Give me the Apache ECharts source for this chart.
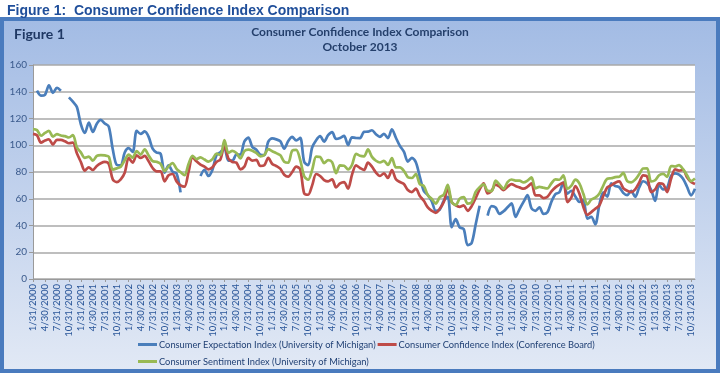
<!DOCTYPE html>
<html><head><meta charset="utf-8">
<script src="https://cdn.jsdelivr.net/npm/echarts@6/dist/echarts.min.js"></script>
<style>html,body{margin:0;padding:0;background:#fff}#c{width:720px;height:373px}</style>
</head><body><div id="c"></div>
<script>
// Monthly data, Jan 2000 .. Nov 2013
const startYear = 2000, startMonth = 1;

const seriesNames = [
  'Consumer Expectation Index (University of Michigan)',
  'Consumer Confidence Index (Conference Board)',
  'Consumer Sentiment Index (University of Michigan)'
];

// blue line
const expectationIdx = [
  null,140.8,137.1,137.7,144.7,139.2,143.0,140.8,null,135.8,132.6,128.6,
  115.7,109.2,116.9,109.9,116.1,118.9,116.3,114.0,97.0,85.3,84.9,94.6,
  97.8,95.0,110.7,108.5,110.3,106.3,97.4,94.5,93.7,79.6,84.9,80.3,
  78.8,64.8,null,null,null,null,77.0,81.7,77.0,81.7,92.5,94.8,
  97.7,88.5,88.5,93.0,93.1,102.8,105.7,98.7,96.7,92.9,92.6,102.7,
  105.1,104.4,103.0,97.5,103.1,106.2,103.6,105.5,87.5,85.2,98.3,103.8,
  106.8,102.7,107.5,109.8,104.7,105.4,107.0,100.2,105.9,105.4,105.3,110.0,
  110.2,111.2,108.2,106.3,108.5,105.3,111.9,105.6,99.5,95.2,87.8,90.6,
  87.3,76.4,65.9,62.8,58.1,51.0,51.9,58.5,61.4,38.8,44.7,38.6,
  37.4,25.3,26.9,40.8,54.8,null,47.4,54.5,53.4,48.7,50.6,53.6,
  56.5,46.4,52.3,57.7,62.7,52.9,51.0,53.5,48.6,49.9,57.8,63.4,
  64.8,72.0,63.8,66.0,61.7,57.6,59.2,45.2,46.4,40.9,55.2,64.8,
  61.5,71.6,69.5,68.7,64.4,62.7,65.9,61.3,68.4,73.1,71.5,66.7,
  58.4,70.5,67.0,68.0,77.0,79.0,78.0,75.0,69.0,62.5,67.5
];

// red line
const confidenceIdx = [
  108.5,107.5,102,103.5,104.5,100.5,104,104,103,101.5,102,94,
  87.5,81,83.5,81.5,84.5,86.5,87.5,86,74.5,72.5,74.5,79.5,
  90.5,87,92.5,90.5,92,88,83,80.5,80.5,73,77.5,78.5,
  73,70,69,80,91,88,85.5,84,82,83.5,87.5,89.5,
  100,90,87.5,87,82,84,90.5,88.5,89,84.5,85,90.5,
  86,84.5,82.5,78,76.5,80,84,82,64,63,70,78.5,
  77,74,73,74.5,68.5,71.5,72.5,67.5,78,85,83,81.5,
  87,84,79.5,77,79,75.5,81.5,74.5,72.5,71,66.5,65,
  67.5,62,58.5,53.5,51,49.5,52.5,57.5,67.5,57.5,55,54,
  55,51,54.5,60.5,67,71.5,64,66,70.5,69,66.5,69,
  71,69.5,68.5,67.5,69,71.5,62.5,62.5,60.5,61.5,65.5,68.5,
  70.5,72,57.5,61,69.5,64,54,48,50,52.5,55,62,
  68.5,70,72,73,68,66,65,67,72,77.5,76.5,65,
  67,71.5,71,65,75,82,81,81.5,76,72.5,71
];

// green line
const sentimentIdx = [
  112.0,111.3,107.1,109.2,110.7,106.4,108.3,107.3,106.8,105.8,107.6,98.4,
  94.7,90.6,91.5,88.4,92.0,92.6,92.4,91.5,81.8,82.7,83.9,88.8,
  93.0,90.7,95.7,93.0,96.9,92.4,88.1,87.6,86.1,80.6,84.2,86.7,
  82.4,79.9,77.6,86.0,92.1,89.7,90.9,89.3,87.7,89.6,93.7,92.6,
  103.8,94.4,95.8,94.2,90.2,95.6,96.7,95.9,94.2,91.7,92.8,97.1,
  95.5,94.1,92.6,87.7,86.9,96.0,96.5,89.1,76.9,74.2,81.6,91.5,
  91.2,86.7,88.9,87.4,79.1,84.9,84.7,82.0,85.4,93.6,92.1,91.7,
  96.9,91.3,88.4,87.1,88.3,85.3,90.4,83.4,83.4,80.9,76.1,75.5,
  78.4,70.8,69.5,62.6,59.8,56.4,61.2,63.0,70.3,57.6,55.3,60.1,
  61.2,56.3,57.3,65.1,68.7,70.8,66.0,65.7,73.5,70.6,67.4,72.5,
  74.4,73.6,73.6,72.2,73.6,76.0,67.8,68.9,68.2,67.7,71.6,74.5,
  74.2,77.5,67.5,69.8,74.3,71.5,63.7,55.7,59.4,60.8,63.7,69.9,
  75.0,75.3,76.2,76.4,79.3,73.2,72.3,74.3,78.3,82.6,82.7,72.9,
  73.8,77.6,78.6,76.4,84.5,84.1,85.1,82.1,77.5,73.2,75.1
];

const yTicks = {min: 0, max: 160, step: 20};

// category labels: month-end dates
const categories = [];
for (let k = 0; k < sentimentIdx.length; k++) {
  const y = startYear + Math.floor((startMonth - 1 + k) / 12);
  const m = (startMonth - 1 + k) % 12 + 1;
  const d = new Date(y, m, 0).getDate();
  categories.push(m + '/' + d + '/' + y);
}

const colors = ['#4A7EBB', '#BE4B48', '#98B954'];
const txt = '#1F3F73';
const chart = echarts.init(document.getElementById('c'), null, {renderer: 'canvas'});

function line(name, data, color) {
  return {
    name, type: 'line', data, smooth: 0.3, showSymbol: false, connectNulls: false,
    lineStyle: {width: 2.7, color}, itemStyle: {color}, z: 3
  };
}

const legendText = {fontFamily: 'Lato', fontSize: 9.3, color: txt, padding: [0, 0, 0, -3]};

chart.setOption({
  animation: false,
  graphic: [{
    type: 'rect', z: -10, silent: true,
    shape: {x: 2, y: 19, width: 716, height: 352},
    style: {
      fill: {type: 'linear', x: 0, y: 0, x2: 0, y2: 1, colorStops: [
        {offset: 0, color: '#A2BBE4'}, {offset: 1, color: '#E2E9F5'}]},
      stroke: '#4A7BBE', lineWidth: 4
    }
  }],
  title: [
    {text: 'Figure 1:  Consumer Confidence Index Comparison', left: 2, top: -1,
     textStyle: {fontFamily: 'Liberation Sans', fontWeight: 'bold', fontSize: 14, color: '#1F4E9A'}},
    {text: 'Figure 1', left: 9, top: 22,
     textStyle: {fontFamily: 'Lato', fontWeight: 'bold', fontSize: 14, color: '#1F3864'}},
    {text: 'Consumer Confidence Index Comparison', subtext: 'October 2013', left: 'center', top: 21, itemGap: 3,
     textStyle: {fontFamily: 'Lato', fontWeight: 'bold', fontSize: 12, color: '#243F6B'},
     subtextStyle: {fontFamily: 'Lato', fontWeight: 'bold', fontSize: 12, color: '#243F6B'}}
  ],
  legend: [
    {data: [seriesNames[0], seriesNames[1]], left: 133, top: 335, icon: 'rect', itemWidth: 19, itemHeight: 3, itemGap: 2,
     textStyle: legendText},
    {data: [seriesNames[2]], left: 133, top: 352, icon: 'rect', itemWidth: 19, itemHeight: 3,
     textStyle: legendText}
  ],
  grid: {left: 33, right: 25, top: 65, bottom: 94, show: true, backgroundColor: '#ffffff', borderWidth: 0},
  xAxis: {
    type: 'category', data: categories, boundaryGap: false,
    axisLine: {lineStyle: {color: '#9A9A9A', width: 1}},
    axisTick: {interval: 2, length: 3, lineStyle: {color: '#9A9A9A'}},
    axisLabel: {interval: 2, rotate: 90, fontFamily: 'Lato', fontSize: 9.5, color: '#2A5699', margin: 5}
  },
  yAxis: {
    type: 'value', min: yTicks.min, max: yTicks.max, interval: yTicks.step,
    axisLine: {show: true, lineStyle: {color: '#9A9A9A'}},
    axisTick: {show: true, length: 4, lineStyle: {color: '#9A9A9A'}},
    axisLabel: {fontFamily: 'Lato', fontSize: 10, color: '#3A5A8C', margin: 6},
    splitLine: {lineStyle: {color: '#A8A8A8', width: 1.5}}
  },
  series: [
    line(seriesNames[0], expectationIdx, colors[0]),
    line(seriesNames[1], confidenceIdx, colors[1]),
    line(seriesNames[2], sentimentIdx, colors[2])
  ]
});
</script></body></html>
